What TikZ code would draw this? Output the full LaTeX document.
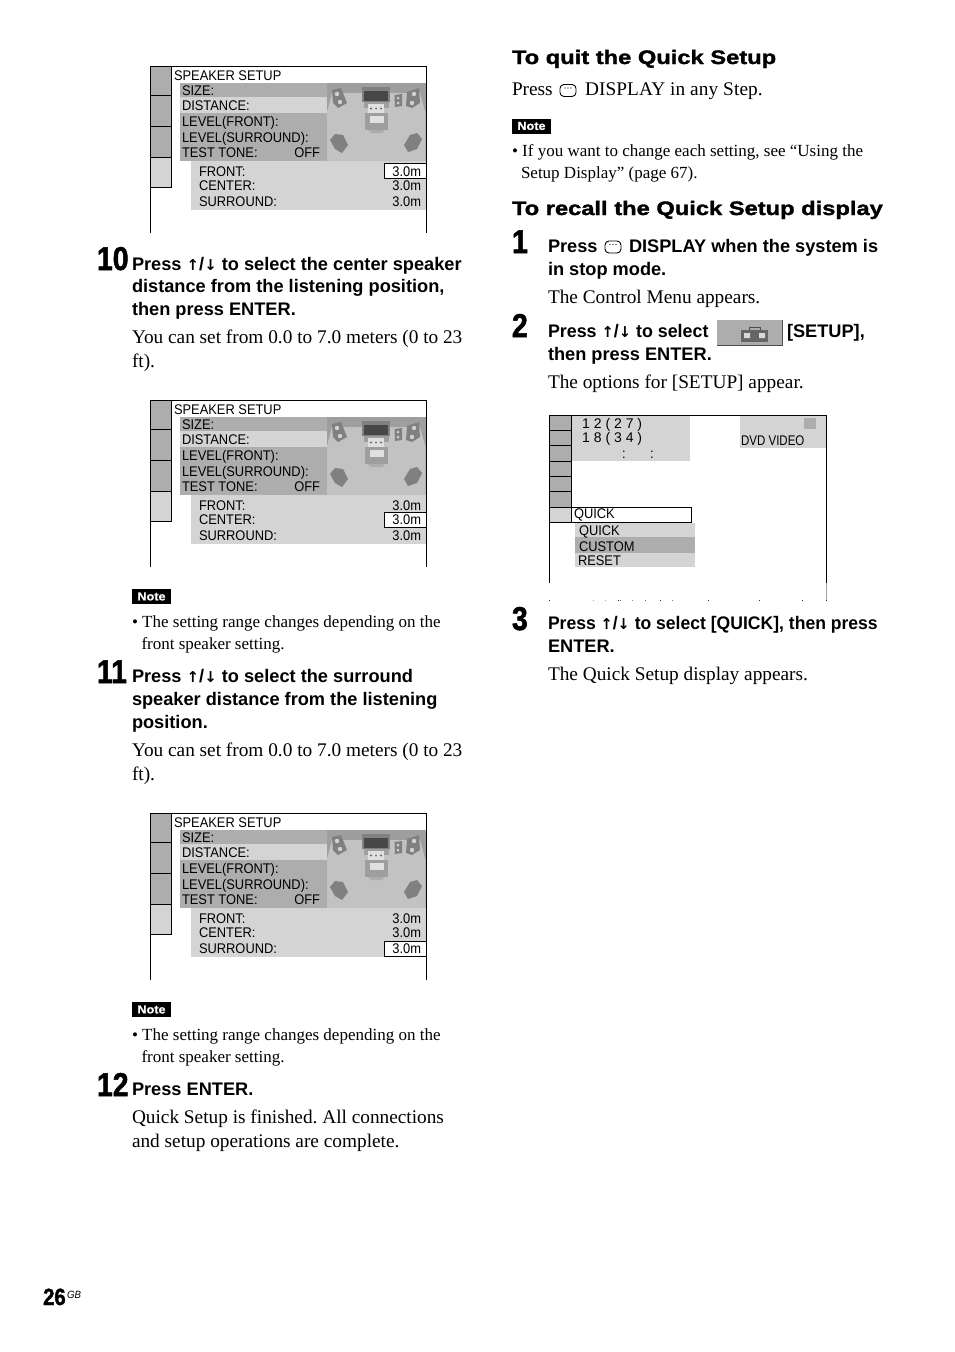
\documentclass[tikz,border=0pt]{standalone}
\usepackage{fontspec}
\setmainfont{Liberation Serif}
\setsansfont{Liberation Sans}
\newfontfamily\heavyfont[UprightFont=* Bold,FakeBold=1.6,FakeStretch=1.215]{Liberation Sans}
\newfontfamily\stepfont[UprightFont=* Bold,FakeBold=1.5,FakeStretch=0.86]{Liberation Sans}
\newfontfamily\notefont[UprightFont=* Bold,FakeBold=1,FakeStretch=1.1]{Liberation Sans}
\newfontfamily\scrfont[FakeStretch=0.92]{Liberation Sans}
\newfontfamily\scrnarrow[FakeStretch=0.82]{Liberation Sans}
\newfontfamily\arrowfont{DejaVu Sans Bold}
\definecolor{cdark}{gray}{0.68}
\definecolor{clight}{gray}{0.83}
\definecolor{croom}{gray}{0.76}
\definecolor{cwall}{gray}{0.62}
\definecolor{cspk}{gray}{0.5}
\tikzset{
 x=1pt,y=-1pt,
 body/.style={anchor=base west,inner sep=0,outer sep=0,font=\fontsize{19.3}{22}\selectfont},
 small/.style={anchor=base west,inner sep=0,outer sep=0,font=\fontsize{17}{20}\selectfont},
 stepb/.style={anchor=base west,inner sep=0,outer sep=0,font=\sffamily\bfseries\fontsize{18.2}{22}\selectfont},
 head/.style={anchor=base west,inner sep=0,outer sep=0,font=\heavyfont\fontsize{19.5}{22}\selectfont},
 num/.style={anchor=base west,inner sep=0,outer sep=0,font=\stepfont\fontsize{33}{33}\selectfont},
 scr/.style={anchor=base west,inner sep=0,outer sep=0,font=\scrfont\fontsize{14}{16}\selectfont},
 scrr/.style={anchor=base east,inner sep=0,outer sep=0,font=\scrfont\fontsize{14}{16}\selectfont},
 notelab/.style={anchor=center,inner sep=0,outer sep=0,text=white,font=\notefont\fontsize{11.5}{12}\selectfont},
 frame/.style={line width=1pt,draw=black},
 iconline/.style={line width=0.9pt,draw=black},
}
\newcommand{\upd}{{\arrowfont\fontsize{15}{15}\selectfont ↑}/{\arrowfont\fontsize{15}{15}\selectfont ↓}}
\newcommand{\speakerscreen}[3]{%
\begin{scope}[yshift=-#2pt]
 \fill[cdark] (150,0) rectangle (171,91);
 \fill[clight] (150,91) rectangle (171,121);
 \draw[frame] (150,167) -- (150,0) -- (426,0) -- (426,167);
 \draw[frame] (171,0) -- (171,121) -- (150,121);
 \draw[frame] (150,29.5) -- (171,29.5) (150,60.5) -- (171,60.5) (150,91) -- (171,91);
 \fill[cdark] (180,17) rectangle (327,95);
 \fill[clight] (180,31) rectangle (327,46.5);
 \fill[clight] (191,95) rectangle (425.5,144);
 % room picture
 \fill[cwall] (327,17) rectangle (425.5,95);
 \fill[croom] (327,46) -- (332,27) -- (420,27) -- (425.5,47) -- (425.5,95) -- (327,95) -- cycle;
 \fill[black!50] (361.7,21.3) rectangle (390,36);
 \fill[black!72] (364.3,25) rectangle (387.7,35);
 \fill[cwall] (364,36) rectangle (389,42);
 \fill[black!12] (368,38) rectangle (384,47);
 \fill[black!60] (371,42.5) circle (1.1) (376,42.5) circle (1) (381,42.5) circle (1.1);
 \fill[cwall] (365,47) rectangle (388,64);
 \fill[black!12] (370,50) rectangle (384,57);
 \fill[cwall!85] (368,64) -- (385,64) -- (382,67) -- (371,67) -- cycle;
 \fill[cspk] (332,24) -- (341,22) -- (347,37) -- (338,42) -- (333,37) -- cycle;
 \fill[black!18] (337,28) circle (2.2) (340,36) circle (2.2);
 \fill[cspk] (407,26) -- (419,22) -- (420,37) -- (412,42) -- (406,40) -- cycle;
 \fill[black!18] (414,28) circle (2.2) (412,37) circle (2.2);
 \fill[cspk] (394.5,29) -- (402,28) -- (402,40) -- (395,41) -- cycle;
 \fill[black!18] (398,32) circle (1.5) (398,37) circle (1.5);
 \fill[cspk] (330,74) -- (335,68) -- (343,69) -- (348,79) -- (342,87) -- (335,83) -- cycle;
 \fill[cspk] (404,79) -- (410,69) -- (417,67) -- (422,73) -- (417,83) -- (408,86) -- cycle;
 % selection box
 \fill[white] (384,#3) rectangle (426,#3+15);
 \draw[line width=0.9pt] (384,#3) rectangle (426,#3+15);
 % texts
 \node[scr] (#1title) at (174,14) {SPEAKER SETUP};
 \node[scr] (#1size) at (182,29) {SIZE:};
 \node[scr] (#1dist) at (182,44.5) {DISTANCE:};
 \node[scr] (#1lfront) at (182,60) {LEVEL(FRONT):};
 \node[scr] (#1lsur) at (182,76) {LEVEL(SURROUND):};
 \node[scr] (#1tone) at (182,91) {TEST TONE:};
 \node[scrr] (#1off) at (320,91) {OFF};
 \node[scr] (#1front) at (199,110) {FRONT:};
 \node[scr] (#1center) at (199,124.5) {CENTER:};
 \node[scr] (#1sur) at (199,140) {SURROUND:};
 \node[scrr] (#1vfront) at (421,110) {3.0m};
 \node[scrr] (#1vcenter) at (421,124.5) {3.0m};
 \node[scrr] (#1vsur) at (421,140) {3.0m};
\end{scope}}
\newcommand{\displayicon}[2]{%
 \draw[iconline,rounded corners=4pt] (#1,#2) rectangle (#1+16,#2+12);
 \fill[black] (#1+5,#2+3.5) circle (0.7) (#1+8,#2+3.5) circle (0.7) (#1+11,#2+3.5) circle (0.7);}
\newcommand{\notebox}[3]{%
 \fill[black] (#2,#3) rectangle (#2+39,#3+15);
 \node[notelab] (#1) at (#2+19.5,#3+7.5) {Note};}
\begin{document}
\frenchspacing
\begin{tikzpicture}
\useasboundingbox (0,0) rectangle (954,1352);
\fill[white] (0,0) rectangle (954,1352);
\speakerscreen{sa}{66}{97}
\speakerscreen{sb}{400}{112}
\speakerscreen{sc}{813}{128}
% step 10
\node[num] (n10) at (97,270) {10};
\node[stepb] (a1) at (132,270) {Press \upd{} to select the center speaker};
\node[stepb] (a2) at (132,292) {distance from the listening position,};
\node[stepb] (a3) at (132,315) {then press ENTER.};
\node[body] (a4) at (132,343) {You can set from 0.0 to 7.0 meters (0 to 23};
\node[body] (a5) at (132,367) {ft).};
\notebox{nt1}{132}{589}
\node[small] (b1) at (132,627) {• The setting range changes depending on the};
\node[small] (b2) at (141.5,649) {front speaker setting.};
% step 11
\node[num] (n11) at (97,683) {11};
\node[stepb] (c1) at (132,682) {Press \upd{} to select the surround};
\node[stepb] (c2) at (132,705) {speaker distance from the listening};
\node[stepb] (c3) at (132,728) {position.};
\node[body] (c4) at (132,756) {You can set from 0.0 to 7.0 meters (0 to 23};
\node[body] (c5) at (132,780) {ft).};
\notebox{nt2}{132}{1002}
\node[small] (d1) at (132,1040) {• The setting range changes depending on the};
\node[small] (d2) at (141.5,1062) {front speaker setting.};
% step 12
\node[num] (n12) at (97,1096) {12};
\node[stepb] (e1) at (132,1095) {Press ENTER.};
\node[body] (e2) at (132,1123) {Quick Setup is finished. All connections};
\node[body] (e3) at (132,1147) {and setup operations are complete.};
% page number
\node[anchor=base west,inner sep=0,font=\stepfont\fontsize{23.5}{24}\selectfont] (pg) at (43,1305) {26};
\node[anchor=base west,inner sep=0,font=\scrfont\itshape\fontsize{10.5}{11}\selectfont] (gb) at (67,1298) {GB};
% right column
\node[head] (h1) at (512,64) {To quit the Quick Setup};
\node[body] (f1) at (512,95) {Press};
\displayicon{560}{84.5}
\node[body] (f2) at (585,95) {\addfontfeature{LetterSpace=0.5}DISPLAY in any Step.};
\notebox{nt3}{512}{118.5}
\node[small] (g1) at (512,156) {• If you want to change each setting, see “Using the};
\node[small] (g2) at (521,178) {Setup Display” (page 67).};
\node[head] (h2) at (512,215) {To recall the Quick Setup display};
\node[num] (n1) at (512,253) {1};
\node[stepb] (k1) at (548,252) {Press};
\displayicon{605}{241}
\node[stepb] (k2) at (629,252) {DISPLAY when the system is};
\node[stepb] (k3) at (548,275) {in stop mode.};
\node[body] (k4) at (548,303) {The Control Menu appears.};
\node[num] (n2) at (512,337) {2};
\node[stepb] (l1) at (548,337) {\scalebox{0.98}[1]{Press \upd{} to select}};
% setup icon
\fill[cdark] (717,320) rectangle (782,345);
\draw[line width=0.9pt,black!70] (717,345) -- (782,345) -- (782,320);
\fill[black!60] (741,330) rectangle (768,342);
\draw[line width=0.9pt,black!70] (749,330) -- (749,327.5) -- (760,327.5) -- (760,330);
\fill[black!15] (744,333) rectangle (750,338) (759,333) rectangle (765,338);
\node[stepb] (l2) at (787,337) {[SETUP],};
\node[stepb] (l3) at (548,360) {then press ENTER.};
\node[body] (l4) at (548,388) {The options for [SETUP] appear.};
% setup screen
\fill[clight] (571,415) rectangle (690,461);
\fill[clight] (740,415) rectangle (826,448);
\fill[cdark] (804,418) rectangle (816,429);
\fill[cdark] (550,415) rectangle (571,507);
\fill[clight] (550,507) rectangle (571,522);
\draw[frame] (549.5,583) -- (549.5,415) -- (826,415) -- (826,583);
\draw[line width=0.7pt] (571,415) -- (571,522) -- (549.5,522);
\foreach \yy in {430,445,461,476,491,507} \draw[line width=0.7pt] (549.5,\yy) -- (571,\yy);
\fill[clight] (575,522.5) rectangle (695,567);
\fill[cdark] (575,537) rectangle (695,553);
\draw[line width=0.9pt] (571,507) rectangle (691,522);
\node[scr] (q1) at (574,518.5) {QUICK};
\node[scr] (q2) at (579,535) {QUICK};
\node[scr] (q3) at (579,551) {CUSTOM};
\node[scr] (q4) at (578,565) {RESET};
\node[anchor=base west,inner sep=0,font=\scrnarrow\fontsize{14}{16}\selectfont] (q5) at (741,445) {DVD VIDEO};
\node[anchor=base west,inner sep=0,font=\sffamily\fontsize{14}{16}\selectfont] (q6) at (582,428.5) {1 2 ( 2 7 )};
\node[anchor=base west,inner sep=0,font=\sffamily\fontsize{14}{16}\selectfont] (q7) at (582,442.5) {1 8 ( 3 4 )};
\node[scr] (q8) at (622,458) {:};
\node[scr] (q9) at (650,458) {:};
\draw[black!35,line width=0.6pt] (826,583) -- (826,601);
\foreach \xx/\gg in {549/80,593/35,605/35,618/80,620/60,632/45,645/60,660/80,672/50,708/80,759/80,802/80,826/80} \draw[black!\gg,line width=0.9pt] (\xx,599.5) -- (\xx,601);
\node[stepb] (m1) at (548,629) {\scalebox{0.965}[1]{Press \upd{} to select [QUICK], then press}};
\node[stepb] (m2) at (548,652) {ENTER.};
\node[body] (m3) at (548,680) {The Quick Setup display appears.};
\node[num] (n3) at (512,630) {3};
\end{tikzpicture}
\end{document}
